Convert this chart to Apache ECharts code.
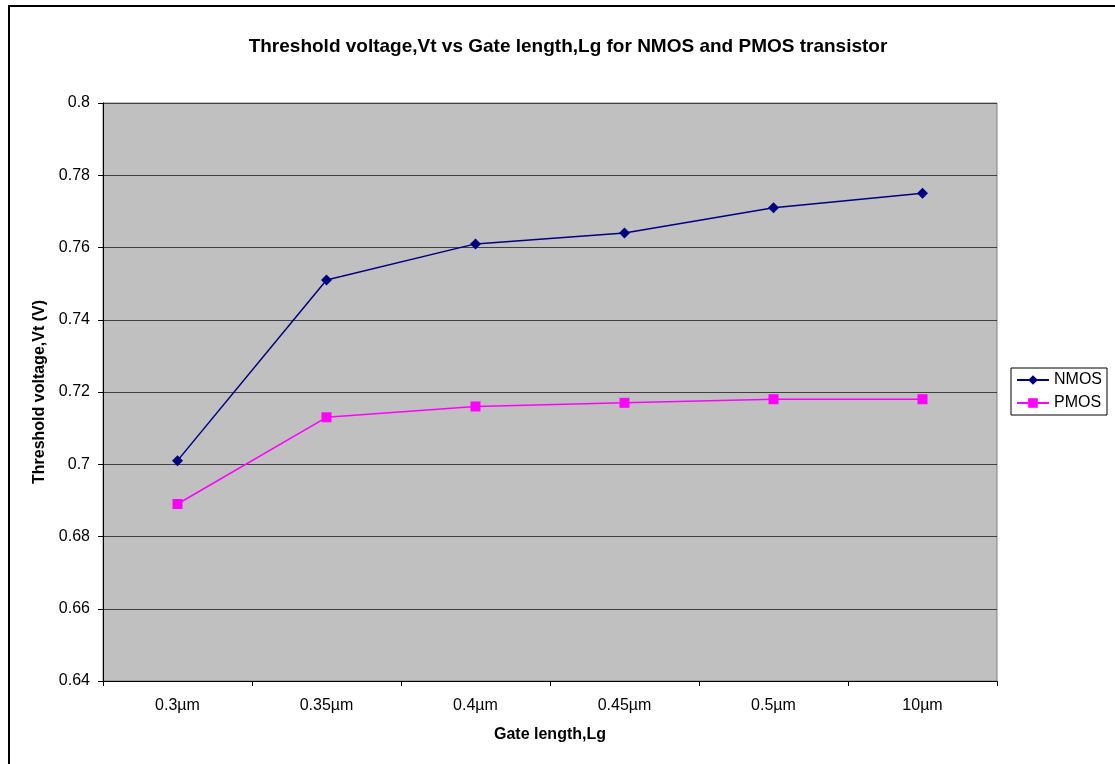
<!DOCTYPE html>
<html>
<head>
<meta charset="utf-8">
<script src="https://cdn.jsdelivr.net/npm/echarts@6/dist/echarts.min.js"></script>
<style>html,body{margin:0;padding:0;background:#fff;}#c{width:1115px;height:764px;}</style>
</head>
<body>
<div id="c"></div>
<script>
const categories = ['0.3µm', '0.35µm', '0.4µm', '0.45µm', '0.5µm', '10µm'];
const nmos = [0.701, 0.751, 0.761, 0.764, 0.771, 0.775];
const pmos = [0.689, 0.713, 0.716, 0.717, 0.718, 0.718];

const chart = echarts.init(document.getElementById('c'));
const font = 'Arial, "Liberation Sans", sans-serif';
chart.setOption({
  animation: false,
  backgroundColor: '#fff',
  title: {
    text: 'Threshold voltage,Vt vs Gate length,Lg for NMOS and PMOS transistor',
    left: 563, top: 32, textAlign: 'center',
    textStyle: { fontFamily: font, fontSize: 19, fontWeight: 'bold', color: '#000' }
  },
  graphic: [
    { type: 'line', shape: { x1: 8, y1: 6, x2: 1115, y2: 6 }, style: { stroke: '#000', lineWidth: 2 } },
    { type: 'line', shape: { x1: 9, y1: 5, x2: 9, y2: 764 }, style: { stroke: '#000', lineWidth: 2 } }
  ],
  legend: {
    orient: 'vertical', left: 1011, top: 368,
    padding: [3, 5, 3, 5], itemGap: 5, itemWidth: 32, itemHeight: 12,
    borderColor: '#000', borderWidth: 1, backgroundColor: '#fff',
    textStyle: { fontFamily: font, fontSize: 16, lineHeight: 18, color: '#000' },
    data: ['NMOS', 'PMOS']
  },
  grid: { left: 103, top: 103, right: 118, bottom: 83, show: true, backgroundColor: '#c0c0c0', borderColor: '#808080', borderWidth: 1 },
  xAxis: {
    type: 'category', data: categories, boundaryGap: true,
    name: 'Gate length,Lg', nameLocation: 'middle', nameGap: 46,
    nameTextStyle: { fontFamily: font, fontSize: 16, fontWeight: 'bold', color: '#000' },
    axisLine: { lineStyle: { color: '#000', width: 1 } },
    axisTick: { show: true, length: 5, lineStyle: { color: '#000' } },
    axisLabel: { fontFamily: font, fontSize: 16, color: '#000', margin: 17 },
    splitLine: { show: false }
  },
  yAxis: {
    type: 'value', min: 0.64, max: 0.8, interval: 0.02,
    name: 'Threshold voltage,Vt (V)', nameLocation: 'middle', nameGap: 53,
    nameTextStyle: { fontFamily: font, fontSize: 16, fontWeight: 'bold', color: '#000' },
    axisLine: { show: true, lineStyle: { color: '#000', width: 1 } },
    axisTick: { show: true, length: 5, lineStyle: { color: '#000' } },
    axisLabel: { fontFamily: font, fontSize: 16, color: '#000', margin: 13, formatter: v => String(+v.toFixed(2)) },
    splitLine: { show: true, lineStyle: { color: '#404040', width: 1 } }
  },
  series: [
    { name: 'NMOS', type: 'line', data: nmos, symbol: 'diamond', symbolSize: 11,
      itemStyle: { color: '#000080' }, lineStyle: { color: '#000080', width: 1.5 } },
    { name: 'PMOS', type: 'line', data: pmos, symbol: 'rect', symbolSize: 10,
      itemStyle: { color: '#ff00ff' }, lineStyle: { color: '#ff00ff', width: 1.5 } }
  ]
});
</script>
</body>
</html>
